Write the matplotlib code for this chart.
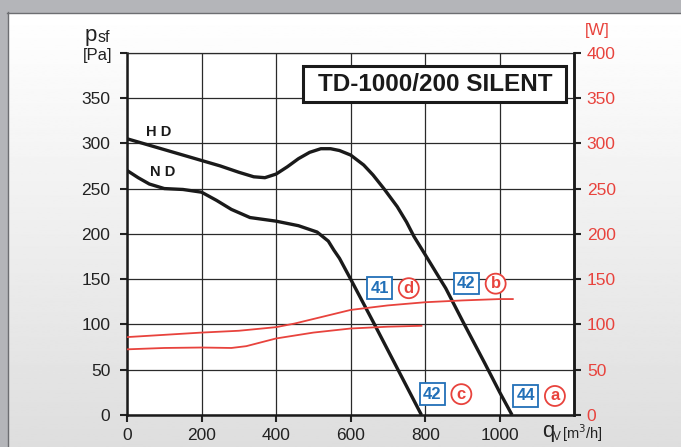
import matplotlib
matplotlib.use("Agg")
import matplotlib.pyplot as plt
import numpy as np
from matplotlib import font_manager
from matplotlib.patches import Rectangle

# pressure curves (q_v in m3/h, p_sf in Pa)
hd_q = [0, 50, 100, 150, 200, 250, 300, 340, 370, 400, 430, 460, 490, 520, 546,
        570, 600, 635, 660, 689, 725, 750, 770, 800, 840, 855, 900, 960, 1000, 1033]
hd_p = [305, 299, 293, 287, 281, 275, 268, 263, 262, 266, 274, 283, 290, 294, 294,
        292, 287, 276, 265, 250, 230, 213, 197, 177, 150, 140, 104, 57, 25, 0]

nd_q = [0, 30, 60, 100, 150, 200, 240, 280, 330, 400, 460, 510, 540, 555, 570,
        600, 664, 727, 790]
nd_p = [270, 262, 255, 250, 249, 246, 237, 227, 218, 214, 209, 202, 192, 182, 173,
        150, 100, 50, 0]

# power curves [W]
pw_hd_q = [0, 100, 200, 300, 400, 450, 500, 550, 600, 700, 800, 900, 1000, 1035]
pw_hd_w = [86, 88.5, 91, 93, 97, 101, 106, 111, 116, 121, 124.5, 126.5, 128, 128]

pw_nd_q = [0, 100, 200, 280, 320, 400, 500, 600, 700, 790]
pw_nd_w = [72.5, 74, 74.5, 74, 76, 84.5, 91, 95.5, 97.5, 98.5]

x_ticks = [0, 200, 400, 600, 800, 1000]
y_ticks = [0, 50, 100, 150, 200, 250, 300, 350, 400]

# noise labels: (q, p, dB, letter q)
noise_tags = [
    (678, 140, "41", 756, "d"),
    (910, 145, "42", 989, "b"),
    (819, 23, "42", 897, "c"),
    (1070, 21, "44", 1148, "a"),
]

RED = "#e8433d"
BLUE = "#2270b8"
GRID = "#2a2a2a"

names = {f.name for f in font_manager.fontManager.ttflist}
narrow = "Liberation Sans Narrow" if "Liberation Sans Narrow" in names else "Liberation Sans"
plt.rcParams["font.family"] = [narrow, "DejaVu Sans"]

W, H = 681, 447
fig = plt.figure(figsize=(W / 100, H / 100), dpi=100)

# panel background
bg = fig.add_axes([0, 0, 1, 1], zorder=-10)
grad = np.linspace(1.0, 0.87, 256).reshape(-1, 1)
bg.imshow(grad, extent=[0, W, H, 12], aspect="auto", cmap="gray", vmin=0, vmax=1)
bg.add_patch(Rectangle((0, 0), W, 12, color="#b4b5b9"))
bg.add_patch(Rectangle((0, 0), 7, H, color="#b4b5b9"))
bg.plot([7, W], [12.5, 12.5], color="#6d6e72", lw=1)
bg.plot([7.5, 7.5], [12, H], color="#6d6e72", lw=1)
bg.set_xlim(0, W)
bg.set_ylim(H, 0)
bg.axis("off")

ax = fig.add_axes([127 / W, 32 / H, 447.3 / W, 362.3 / H])
ax.set_facecolor("white")
ax.set_xlim(0, 1200)
ax.set_ylim(0, 400)

ax.set_xticks(x_ticks)
ax.set_xticklabels([str(v) for v in x_ticks], fontsize=12.5, color="#222222")
ax.set_yticks(y_ticks)
ax.set_yticklabels([str(v) for v in y_ticks[:-1]] + [""], fontsize=12.5, color="#222222")
ax.tick_params(axis="y", length=5, width=1.5, pad=7, color="#222222")
ax.tick_params(axis="x", length=5, width=1.5, pad=4, color="#222222")
ax.grid(True, color=GRID, lw=0.9)
ax.set_axisbelow(True)
for s in ["left", "bottom", "right"]:
    ax.spines[s].set_linewidth(1.8)
    ax.spines[s].set_color("#1a1a1a")
ax.spines["top"].set_linewidth(0.9)
ax.spines["top"].set_color(GRID)

ax2 = ax.twinx()
ax2.set_ylim(0, 400)
ax2.set_yticks(y_ticks)
ax2.set_yticklabels([str(v) for v in y_ticks], fontsize=12.5, color=RED)
ax2.tick_params(axis="y", length=5, width=1.5, pad=4, color="#222222")
for s in ["left", "bottom", "top"]:
    ax2.spines[s].set_visible(False)
ax2.spines["right"].set_linewidth(1.8)
ax2.spines["right"].set_color("#1a1a1a")

ax.plot(hd_q, hd_p, color="#1a1a1a", lw=2.4, solid_capstyle="butt", solid_joinstyle="round")
ax.plot(nd_q, nd_p, color="#1a1a1a", lw=2.4, solid_capstyle="butt", solid_joinstyle="round")
ax2.plot(pw_hd_q, pw_hd_w, color=RED, lw=1.3)
ax2.plot(pw_nd_q, pw_nd_w, color=RED, lw=1.3)

ax.text(84, 312, "H D", fontsize=10.5, fontweight="bold", ha="center", va="center",
        family="Liberation Sans", color="#1a1a1a")
ax.text(95, 268, "N D", fontsize=10.5, fontweight="bold", ha="center", va="center",
        family="Liberation Sans", color="#1a1a1a")

# model name box
ax.add_patch(Rectangle((472, 345.8), 707, 39.2, fc="white", ec="#1a1a1a", lw=2.2,
                       zorder=3))
ax.text(826, 365, "TD-1000/200 SILENT", fontsize=17.5, fontweight="bold",
        family="Liberation Sans", ha="center", va="center", color="#1a1a1a", zorder=4)

for bq, bp, db, lq, letter in noise_tags:
    ax.text(bq, bp, db, fontsize=12, fontweight="bold", family="Liberation Sans",
            color=BLUE, ha="center", va="center", clip_on=False,
            bbox=dict(boxstyle="square,pad=0.2", fc="white", ec=BLUE, lw=1.3))
    ax.text(lq, bp, letter, fontsize=12, fontweight="bold", family="Liberation Sans",
            color=RED, ha="center", va="center", clip_on=False,
            bbox=dict(boxstyle="circle,pad=0.15", fc="white", ec=RED, lw=1.3))

# axis captions
fig.text(85 / W, 1 - 41 / H, "p", fontsize=16, color="#222222", ha="left", va="baseline")
fig.text(97.5 / W, 1 - 42 / H, "sf", fontsize=11.5, color="#222222", ha="left", va="baseline")
fig.text(98 / W, 1 - 60 / H, "[Pa]", fontsize=12, color="#222222", ha="center", va="baseline")
fig.text(597 / W, 1 - 35 / H, "[W]", fontsize=12, color=RED, ha="center", va="baseline")
fig.text(542 / W, 1 - 437 / H, "q", fontsize=16, color="#222222", ha="left", va="baseline")
fig.text(553 / W, 1 - 440 / H, "V", fontsize=8.5, color="#222222", ha="left", va="baseline")
fig.text(562 / W, 1 - 439.5 / H, "[m$^3$/h]", fontsize=10.5, color="#222222",
         ha="left", va="baseline")

fig.savefig("out.png", dpi=100)
